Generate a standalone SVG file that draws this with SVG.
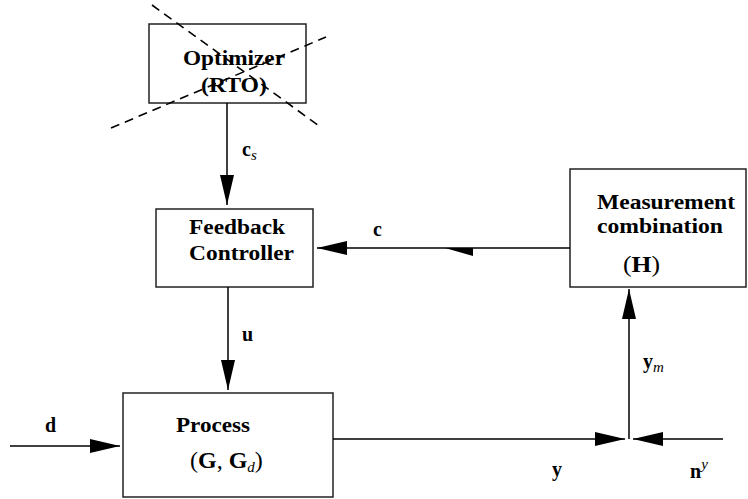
<svg xmlns="http://www.w3.org/2000/svg" width="748" height="499" viewBox="0 0 748 499">
<style>
.box{fill:#fff;stroke:#222;stroke-width:1.5}
.ln{stroke:#000;stroke-width:1.5;fill:none}
.dash{stroke:#000;stroke-width:1.6;stroke-dasharray:9 6;fill:none}
text{fill:#000}
.t{font-size:20px;font-weight:bold}
.lb{font-size:20px;font-weight:bold}
.it{font-style:italic;font-weight:normal;font-size:15px}
.rg{font-weight:normal}
</style>
<defs>
<marker id="ah" markerUnits="userSpaceOnUse" markerWidth="30" markerHeight="14" refX="30" refY="7" orient="auto">
<path d="M0,0 L30,7 L0,14 z" fill="#000"/>
</marker>
</defs>
<g font-family="'Liberation Serif', 'DejaVu Serif', serif">
<g id="optimizer">
<rect class="box" x="149" y="24" width="157" height="79"/>
<text class="t" x="183" y="65" textLength="102" lengthAdjust="spacingAndGlyphs">Optimizer</text>
<text class="t" x="201" y="92" textLength="66" lengthAdjust="spacingAndGlyphs">(RTO)</text>
<line class="dash" x1="152" y1="5" x2="322" y2="128"/>
<line class="dash" x1="111" y1="128" x2="326" y2="37"/>
</g>
<g id="feedback">
<rect class="box" x="156" y="209" width="157" height="78"/>
<text class="t" x="189" y="234" textLength="96" lengthAdjust="spacingAndGlyphs">Feedback</text>
<text class="t" x="189" y="260" textLength="105" lengthAdjust="spacingAndGlyphs">Controller</text>
</g>
<g id="measurement">
<rect class="box" x="570" y="169" width="176" height="118"/>
<text class="t" x="597" y="209" textLength="138" lengthAdjust="spacingAndGlyphs">Measurement</text>
<text class="t" x="597" y="233" textLength="126" lengthAdjust="spacingAndGlyphs">combination</text>
<text class="t" x="623" y="272" style="font-size:24px" textLength="37" lengthAdjust="spacingAndGlyphs"><tspan class="rg">(</tspan>H<tspan class="rg">)</tspan></text>
</g>
<g id="process">
<rect class="box" x="123" y="393" width="210" height="104"/>
<text class="t" x="176" y="432" textLength="74" lengthAdjust="spacingAndGlyphs">Process</text>
<text class="t" x="190" y="468" style="font-size:24px"><tspan class="rg">(</tspan>G<tspan class="rg">, </tspan>G<tspan class="it" dy="4">d</tspan><tspan class="rg" dy="-4">)</tspan></text>
</g>
<g id="connectors">
<line class="ln" x1="227" y1="103" x2="227" y2="205" marker-end="url(#ah)"/>
<line class="ln" x1="228" y1="287" x2="228" y2="390" marker-end="url(#ah)"/>
<line class="ln" x1="570" y1="248" x2="317" y2="248" marker-end="url(#ah)"/>
<polygon points="445,248 473,248 473,256" fill="#000"/>
<line class="ln" x1="10" y1="446" x2="120" y2="446" marker-end="url(#ah)"/>
<line class="ln" x1="333" y1="439" x2="625" y2="439" marker-end="url(#ah)"/>
<line class="ln" x1="723" y1="439" x2="633" y2="439" marker-end="url(#ah)"/>
<line class="ln" x1="629" y1="439" x2="629" y2="289" marker-end="url(#ah)"/>
</g>
<g id="labels">
<text class="lb" x="242" y="156">c<tspan class="it" dy="4">s</tspan></text>
<text class="lb" x="373" y="236">c</text>
<text class="lb" x="242" y="341">u</text>
<text class="lb" x="643" y="368">y<tspan class="it" dy="4">m</tspan></text>
<text class="lb" x="45" y="432">d</text>
<text class="lb" x="552" y="476">y</text>
<text class="lb" x="690" y="478">n<tspan class="it" dy="-9">y</tspan></text>
</g>
</g>
</svg>
